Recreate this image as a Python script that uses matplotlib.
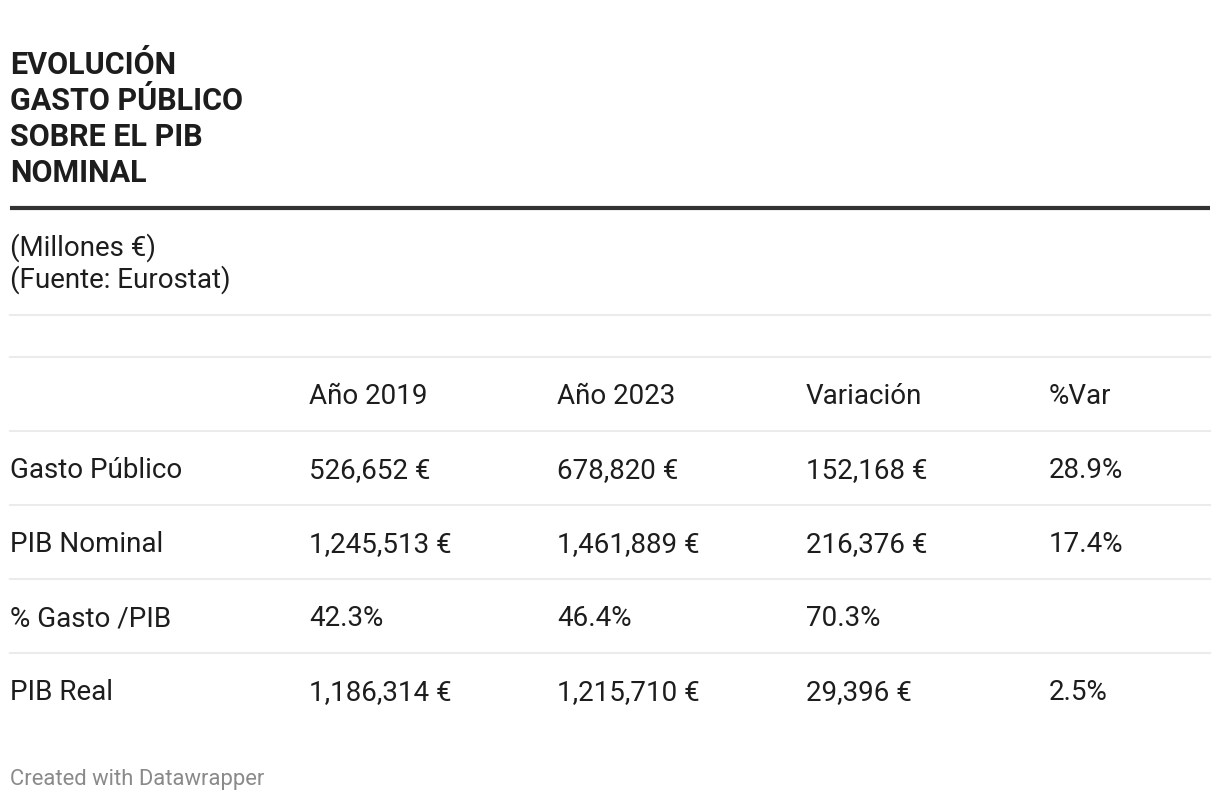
import matplotlib
matplotlib.use("Agg")
import matplotlib.pyplot as plt

# datos de la tabla (millones de euros, fuente Eurostat)
title_lines = ["EVOLUCIÓN", "GASTO PÚBLICO", "SOBRE EL PIB", "NOMINAL"]
notes = ["(Millones €)", "(Fuente: Eurostat)"]
columns = ["", "Año 2019", "Año 2023", "Variación", "%Var"]
row_labels = ["Gasto Público", "PIB Nominal", "% Gasto /PIB", "PIB Real"]
year_2019 = ["526,652 €", "1,245,513 €", "42.3%", "1,186,314 €"]
year_2023 = ["678,820 €", "1,461,889 €", "46.4%", "1,215,710 €"]
variacion = ["152,168 €", "216,376 €", "70.3%", "29,396 €"]
pct_var = ["28.9%", "17.4%", "", "2.5%"]

plt.rcParams["font.family"] = ["Roboto", "DejaVu Sans"]
W, H = 1220, 802
fig = plt.figure(figsize=(W / 100, H / 100), dpi=100)
ax = fig.add_axes([0, 0, 1, 1])
ax.set_xlim(0, W)
ax.set_ylim(H, 0)
ax.axis("off")

text_col = "#1d1d1d"
left = 10
body_fs = 20

# titulo
for i, line in enumerate(title_lines):
    ax.text(left, 74.5 + i * 36, line, fontsize=22, fontweight="bold",
            color=text_col, va="baseline", ha="left")

ax.plot([left, 1210], [207.5, 207.5], color="#333333", lw=3, solid_capstyle="butt")

for i, line in enumerate(notes):
    ax.text(left, 255.5 + i * 32, line, fontsize=body_fs, color=text_col,
            va="baseline", ha="left")

# tabla
col_x = [10, 309, 557, 806, 1049]
rule_y = [315, 357, 431, 505, 579, 653]
for y in rule_y:
    ax.plot([left, 1210], [y, y], color="#ebebeb", lw=1.5)

header_base = 404.5
row_step = 74
for x, c in zip(col_x, columns):
    ax.text(x, header_base, c, fontsize=body_fs, color=text_col, va="baseline", ha="left")

table_cols = [row_labels, year_2019, year_2023, variacion, pct_var]
for r in range(len(row_labels)):
    yb = header_base + (r + 1) * row_step
    for x, vals in zip(col_x, table_cols):
        ax.text(x, yb, vals[r], fontsize=body_fs, color=text_col, va="baseline", ha="left")

ax.text(left, 785.5, "Created with Datawrapper", fontsize=15.8, color="#8a8a8a",
        va="baseline", ha="left")

fig.savefig("out.png", dpi=100, facecolor="white")
